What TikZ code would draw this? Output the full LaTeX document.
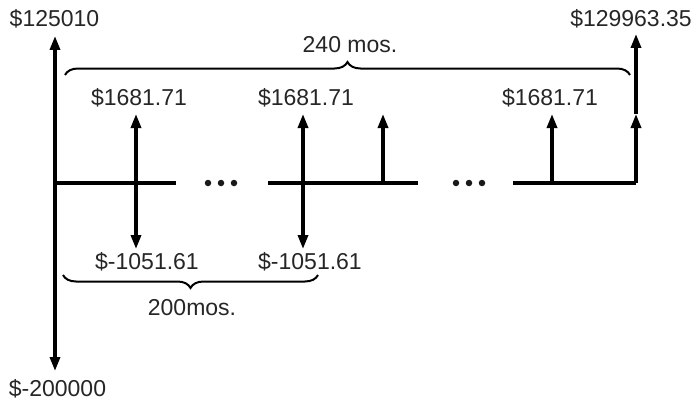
\documentclass[tikz,border=0pt]{standalone}
\usepackage{fontspec}
\setmainfont{Liberation Sans}
\usetikzlibrary{arrows.meta,decorations.pathreplacing}
\begin{document}
\begin{tikzpicture}[x=1pt,y=-1pt,
  flow/.style={line width=3.3pt,-{Triangle[length=14pt,width=10pt]}},
  axis/.style={line width=3.3pt},
  lbl/.style={font=\fontsize{23}{26}\selectfont,text=black!85,inner sep=0pt},
  brc/.style={line width=2pt,decorate,decoration={brace,amplitude=13pt}},
  dot/.style={circle,fill=black!90,inner sep=0pt,minimum size=6.5pt}]
\useasboundingbox (0,0) rectangle (698,404);
% axis coordinates
\coordinate (o) at (55,183);
\coordinate (top) at (55,36);
\coordinate (bot) at (55,371);
\coordinate (a1) at (176,183);
\coordinate (b0) at (268,183);
\coordinate (b1) at (418,183);
\coordinate (c0) at (513,183);
\coordinate (e) at (636,183);
\coordinate (emid) at (636,114);
\coordinate (etop) at (636,34);
\coordinate (p1) at (136,183); \coordinate (p1u) at (136,114); \coordinate (p1d) at (136,249);
\coordinate (p2) at (303,183); \coordinate (p2u) at (303,114); \coordinate (p2d) at (303,249);
\coordinate (p3) at (383,183); \coordinate (p3u) at (383,114);
\coordinate (p4) at (552,183); \coordinate (p4u) at (552,114);
% axis
\draw[axis] (o) -- (a1);
\draw[axis] (b0) -- (b1);
\draw[axis] (c0) -- (e);
\draw[flow] (o) -- (top);
\draw[flow] (o) -- (bot);
\draw[flow] (e) -- (emid);
\draw[flow] (emid) -- (etop);
\draw[flow] (p1) -- (p1u);
\draw[flow] (p1) -- (p1d);
\draw[flow] (p2) -- (p2u);
\draw[flow] (p2) -- (p2d);
\draw[flow] (p3) -- (p3u);
\draw[flow] (p4) -- (p4u);
% dots
\node[dot] (d1) at (208,183) {};
\node[dot] (d2) at (221,183) {};
\node[dot] (d3) at (234,183) {};
\node[dot] (d4) at (456,183) {};
\node[dot] (d5) at (469,183) {};
\node[dot] (d6) at (482,183) {};
% braces
\coordinate (bl) at (65,75);
\coordinate (br) at (630,75);
\draw[brc] (bl) -- (br);
\coordinate (cl) at (63,275);
\coordinate (cr) at (318,275);
\draw[brc,decoration={mirror}] (cl) -- (cr);
% labels
\node[lbl] (l1) at (54.5,19) {\$125010};
\node[lbl] (l2) at (631,19) {\$129963.35};
\node[lbl] (l3) at (350,45) {240 mos.};
\node[lbl] (l4) at (139,98) {\$1681.71};
\node[lbl] (l5) at (306,98) {\$1681.71};
\node[lbl] (l6) at (550,98) {\$1681.71};
\node[lbl] (l7) at (147,262) {\$-1051.61};
\node[lbl] (l8) at (310,262) {\$-1051.61};
\node[lbl] (l9) at (192,308) {200mos.};
\node[lbl] (l10) at (57.5,389) {\$-200000};
\end{tikzpicture}
\end{document}
